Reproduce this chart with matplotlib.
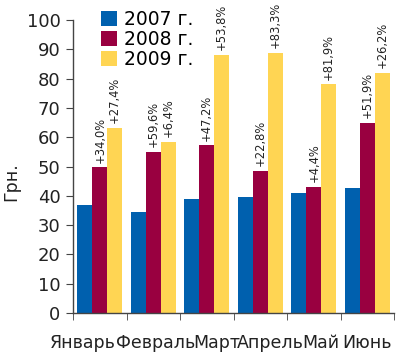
import matplotlib
matplotlib.use("Agg")
import matplotlib.pyplot as plt
import matplotlib.transforms as mtransforms
import numpy as np

months = ["Январь", "Февраль", "Март", "Апрель", "Май", "Июнь"]
series_names = ["2007 г.", "2008 г.", "2009 г."]
v2007 = [37.0, 34.5, 38.9, 39.5, 41.1, 42.7]
v2008 = [49.7, 55.0, 57.2, 48.5, 42.9, 64.8]
v2009 = [63.2, 58.5, 88.0, 88.9, 78.0, 81.8]
pct2008 = ["+34,0%", "+59,6%", "+47,2%", "+22,8%", "+4,4%", "+51,9%"]
pct2009 = ["+27,4%", "+6,4%", "+53,8%", "+83,3%", "+81,9%", "+26,2%"]
yticks = [0, 10, 20, 30, 40, 50, 60, 70, 80, 90, 100]
ylabel = "Грн."

colors = ["#0060AE", "#990040", "#FFD553"]
label_shift_pt = [-12.2, 1.8, 7.2, 7.2, 5.0, 0.0]  # layout nudges for month labels

fig = plt.figure(figsize=(4.0, 3.57), dpi=100)
ax = fig.add_axes([0.1825, 0.123, 0.8025, 0.821])

x = np.arange(len(months))
w = 0.28
data = [v2007, v2008, v2009]
for i, (vals, c, name) in enumerate(zip(data, colors, series_names)):
    ax.bar(x + (i - 1) * w, vals, width=w, color=c, label=name, linewidth=0)

for i in range(len(months)):
    ax.annotate(pct2008[i], (x[i], v2008[i]), xytext=(0, 3.5), textcoords="offset points",
                rotation=90, ha="center", va="bottom", fontsize=8.3, color="#222222")
    ax.annotate(pct2009[i], (x[i] + w, v2009[i]), xytext=(0, 3.5), textcoords="offset points",
                rotation=90, ha="center", va="bottom", fontsize=8.3, color="#222222")

ax.set_xlim(-0.5, len(months) - 0.5)
ax.set_ylim(0, 100)
ax.set_yticks(yticks)
ax.set_yticklabels([str(t) for t in yticks], fontsize=13, color="#222222")
ax.set_xticks(x)
ax.set_xticklabels(months, fontsize=12.5, color="#222222")
ax.tick_params(axis="x", which="major", length=0, pad=15)
ax.set_xticks(np.arange(-0.5, len(months), 1.0), minor=True)
ax.tick_params(axis="x", which="minor", length=5, direction="out", color="#444444")
ax.tick_params(axis="y", length=5, direction="out", color="#444444", pad=4)

for lbl, dx in zip(ax.get_xticklabels(), label_shift_pt):
    lbl.set_transform(lbl.get_transform() +
                      mtransforms.ScaledTranslation(dx / 72.0, 0, fig.dpi_scale_trans))

for s in ["top", "right"]:
    ax.spines[s].set_visible(False)
for s in ["left", "bottom"]:
    ax.spines[s].set_color("#444444")
    ax.spines[s].set_linewidth(1.0)

ax.set_ylabel(ylabel, fontsize=12.5, color="#222222")
ax.yaxis.set_label_coords(-0.165, 0.45)

leg = ax.legend(loc="upper left", bbox_to_anchor=(0.087, 1.035), frameon=False,
                fontsize=13.5, handlelength=0.85, handleheight=0.85, handletextpad=0.4,
                labelspacing=0.05, borderpad=0.0, borderaxespad=0.0)

fig.savefig("out.png", dpi=100)
